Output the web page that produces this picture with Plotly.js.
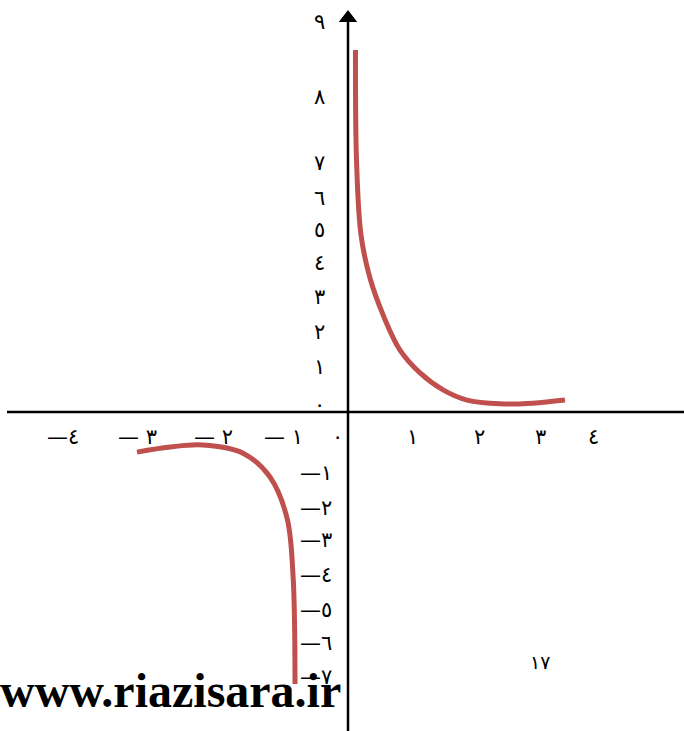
<!DOCTYPE html>
<html>
<head>
<meta charset="utf-8">
<script src="https://cdn.plot.ly/plotly-3.0.1.min.js"></script>
<style>html,body{margin:0;padding:0;background:#fff;}#chart{width:684px;height:731px;}</style>
</head>
<body>
<div id="chart"></div>
<script>
// Curve branches (data units)
const rightX = [0.115, 0.131, 0.20, 0.338, 0.554, 0.80, 1.108, 1.462, 1.831, 2.338, 2.846, 3.338];
const rightY = [10.65, 7.4, 5.21, 3.94, 2.79, 1.82, 1.15, 0.65, 0.35, 0.24, 0.26, 0.35];
const leftX = [-3.246, -2.738, -2.231, -1.615, -1.20, -0.938, -0.846, -0.815];
const leftY = [-1.18, -1.03, -0.97, -1.21, -1.91, -3.12, -4.79, -8.0];

// Tick labels and where they sit in the picture
const xTickText = ['—٤', '— ٣', '— ٢', '— ١', '٠', '١', '٢', '٣', '٤'];
const xTickPos = [-4.385, -3.246, -2.077, -1.0, -0.154, 0.985, 2.03, 2.954, 3.77];
const yPosText = ['٠', '١', '٢', '٣', '٤', '٥', '٦', '٧', '٨', '٩'];
const yPosVals = [0.21, 1.32, 2.35, 3.38, 4.38, 5.35, 6.29, 7.32, 9.26, 11.47];
const yNegText = ['—١', '—٢', '—٣', '—٤', '—٥', '—٦', '—٧'];
const yNegVals = [-1.79, -2.82, -3.76, -4.79, -5.82, -6.79, -7.79];

const watermark = 'www.riazisara.ir';
const pageNum = '١٧';

const W = 684, H = 731, ox = 348, oy = 412, ux = 65, uy = 34;
const xRange = [-ox / ux, (W - ox) / ux];
const yRange = [(oy - H) / uy, oy / uy];

const red = '#c0504d';
const digitFont = {family: 'DejaVu Sans, Noto Sans', size: 21, color: '#000'};

const traces = [
  {x: rightX, y: rightY, mode: 'lines', line: {color: red, width: 5, shape: 'spline', smoothing: 1}, hoverinfo: 'skip'},
  {x: leftX, y: leftY, mode: 'lines', line: {color: red, width: 5, shape: 'spline', smoothing: 1}, hoverinfo: 'skip'},
  {x: [0], y: [(oy - 18) / uy], mode: 'markers', marker: {symbol: 'triangle-up', size: 16, color: '#000'}, hoverinfo: 'skip'}
];

const annotations = [];
xTickText.forEach((t, i) => annotations.push({x: xTickPos[i], y: -0.735, text: t, showarrow: false, xanchor: 'center', yanchor: 'middle', font: digitFont}));
yPosText.forEach((t, i) => annotations.push({x: -0.446, y: yPosVals[i], text: t, showarrow: false, xanchor: 'center', yanchor: 'middle', font: digitFont}));
yNegText.forEach((t, i) => annotations.push({x: -0.49, y: yNegVals[i], text: t, showarrow: false, xanchor: 'center', yanchor: 'middle', font: digitFont}));
annotations.push({xref: 'paper', yref: 'paper', x: 170 / W, y: 1 - 690 / H, text: '<b>' + watermark + '</b>', showarrow: false, xanchor: 'center', yanchor: 'middle', font: {family: 'Liberation Serif', size: 48, color: '#000'}});
annotations.push({xref: 'paper', yref: 'paper', x: 540 / W, y: 1 - 662 / H, text: pageNum, showarrow: false, xanchor: 'center', yanchor: 'middle', font: {family: 'DejaVu Sans', size: 19, color: '#000'}});

const layout = {
  width: W, height: H,
  margin: {l: 0, r: 0, t: 0, b: 0},
  paper_bgcolor: '#fff', plot_bgcolor: '#fff',
  showlegend: false,
  xaxis: {range: xRange, visible: false, fixedrange: true},
  yaxis: {range: yRange, visible: false, fixedrange: true},
  shapes: [
    {type: 'line', xref: 'x', yref: 'y', x0: (7 - ox) / ux, x1: xRange[1], y0: 0, y1: 0, line: {color: '#000', width: 2.5}, layer: 'below'},
    {type: 'line', xref: 'x', yref: 'y', x0: 0, x1: 0, y0: yRange[0], y1: (oy - 20) / uy, line: {color: '#000', width: 2.5}, layer: 'below'}
  ],
  annotations: annotations
};

Plotly.newPlot('chart', traces, layout, {displayModeBar: false, staticPlot: true});
</script>
</body>
</html>
